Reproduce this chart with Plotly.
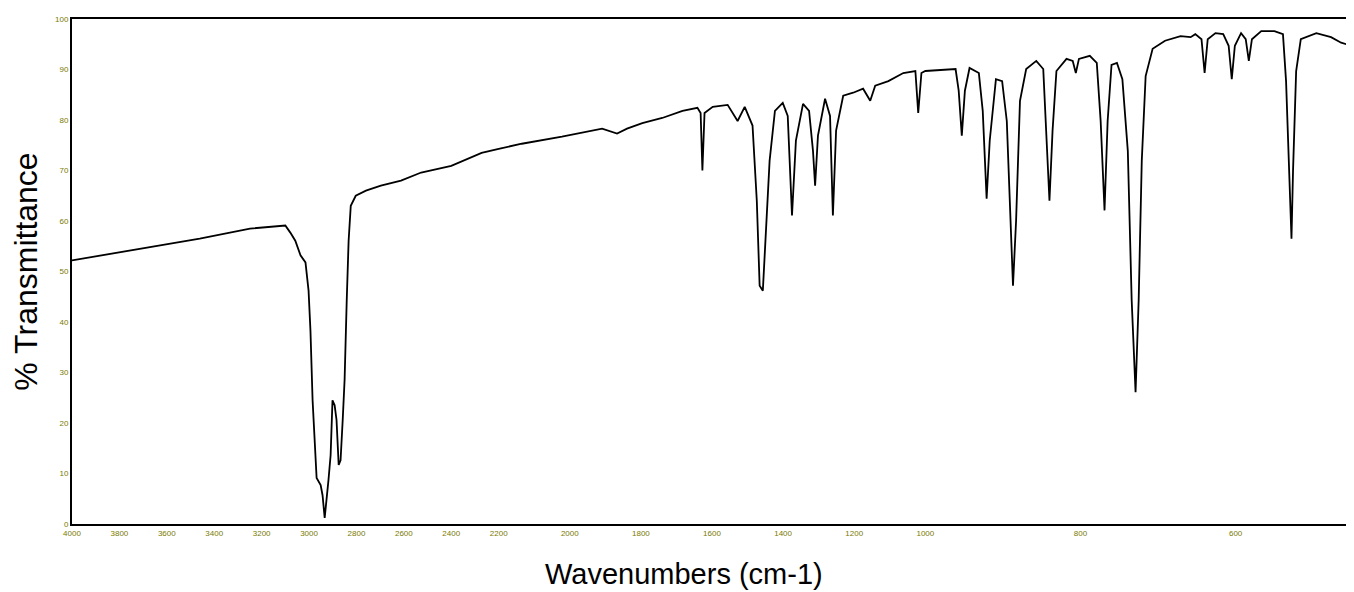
import numpy as np
import plotly.graph_objects as go

# Spectrum: wavenumber (cm-1) and % transmittance
wavenumber = [4000, 3673, 3461, 3249, 3100, 3079, 3058, 3036, 3015, 3002, 2994, 2985, 2977, 2968,
              2951, 2943, 2934, 2926, 2918, 2909, 2901, 2892, 2884, 2875, 2867, 2858, 2850, 2841,
              2833, 2824, 2803, 2760, 2697, 2612, 2527, 2400, 2272, 2200,
              2135, 2022, 1966, 1909, 1867, 1839, 1796, 1740, 1683, 1641, 1632, 1627, 1621, 1598,
              1556, 1528, 1508, 1486, 1474, 1466, 1457, 1449, 1438, 1423, 1401, 1387, 1375, 1364,
              1344, 1327, 1316, 1310, 1302, 1282, 1268, 1260, 1251, 1231, 1203, 1175, 1155, 1141,
              1104, 1062, 1028, 1020, 1011, 1000,
              977, 961, 957, 953, 949, 943, 931, 926, 921, 917, 909, 901, 895, 891, 887, 883, 878,
              870, 857, 848, 844, 840, 836, 831, 818, 810, 806, 802, 788, 779, 774, 769, 765, 760,
              753, 746, 739, 734, 729, 725, 721, 716, 707, 691, 671, 658, 652, 644, 640, 636, 626,
              616, 609, 605, 601, 593, 587, 583, 579, 567, 550, 539, 535, 531, 528, 526, 522, 516,
              496, 477, 464, 450]
transmittance = [52.2, 54.9, 56.5, 58.5, 59.1, 57.7, 56.1, 53.2, 51.8, 46.2, 38.3, 24.5, 15.6, 9.1,
                 7.7, 5.7, 1.2, 4.7, 8.7, 13.6, 24.5, 23.5, 20.6, 11.7, 12.6, 20.6, 28.5, 44.3,
                 56.1, 63.0, 65.0, 66.0, 67.0, 68.0, 69.6, 70.9, 73.5, 74.3,
                 75.3, 76.7, 77.5, 78.3, 77.3, 78.3, 79.4, 80.4, 81.8, 82.4, 81.4, 70.0, 81.4, 82.6,
                 83.0, 79.8, 82.6, 78.9, 64.0, 47.2, 46.2, 56.1, 71.9, 81.8, 83.4, 80.8, 61.1, 75.9,
                 83.2, 81.8, 73.9, 67.0, 76.9, 84.2, 80.8, 61.1, 77.9, 84.8, 85.4, 86.2, 83.8, 86.8,
                 87.7, 89.3, 89.7, 81.4, 89.3, 89.7,
                 89.9, 90.1, 85.8, 76.9, 85.8, 90.3, 89.3, 81.8, 64.4, 75.9, 88.1, 87.7, 79.8, 62.1,
                 47.2, 60.1, 83.8, 90.1, 91.7, 90.1, 77.9, 64.0, 77.9, 89.7, 92.1, 91.7, 89.3, 92.1,
                 92.7, 91.3, 79.8, 62.1, 79.8, 90.9, 91.3, 88.1, 73.9, 44.3, 26.1, 44.3, 71.9, 88.7,
                 94.1, 95.7, 96.6, 96.4, 97.0, 96.0, 89.3, 96.0, 97.2, 97.0, 94.7, 88.1, 94.7, 97.2,
                 96.0, 91.7, 96.0, 97.6, 97.6, 97.0, 87.7, 70.0, 56.5, 70.0, 89.7, 96.0, 97.2, 96.4,
                 95.3, 94.7]

# Axis: three equal-width segments with different scales
axis_breaks = [4000, 2200, 1000, 450]
tick_labels = ["4000", "3800", "3600", "3400", "3200", "3000", "2800", "2600", "2400", "2200",
               "2000", "1800", "1600", "1400", "1200", "1000", "800", "600", "450"]
y_ticks = [0, 10, 20, 30, 40, 50, 60, 70, 80, 90, 100]


def axis_pos(nu):
    nu = np.asarray(nu, dtype=float)
    return np.interp(-nu, [-b for b in axis_breaks], list(range(len(axis_breaks))))


tick_values = [float(v) for v in axis_pos([float(t) for t in tick_labels])]

fig = go.Figure()
fig.add_trace(go.Scatter(x=axis_pos(wavenumber), y=transmittance, mode="lines",
                         line=dict(color="black", width=1.8), hoverinfo="skip"))

tick_font = dict(family="Liberation Sans, Arial, sans-serif", size=8, color="#7a7a00")
x_title_font = dict(family="Liberation Sans, Arial, sans-serif", size=29, color="black")
y_title_font = dict(family="Liberation Sans, Arial, sans-serif", size=32, color="black")

fig.update_layout(
    width=1346, height=584,
    margin=dict(l=64, r=0, t=11, b=68),
    paper_bgcolor="white", plot_bgcolor="white",
    showlegend=False,
    xaxis=dict(range=[0, len(axis_breaks) - 1], tickmode="array", tickvals=tick_values,
               ticktext=tick_labels, showgrid=False, zeroline=False, showline=True,
               linecolor="black", linewidth=2, mirror=True, ticks="", tickfont=tick_font),
    yaxis=dict(range=[0, 100], tickmode="array", tickvals=y_ticks,
               showgrid=False, zeroline=False, showline=True,
               linecolor="black", linewidth=2, mirror=True, ticks="", tickfont=tick_font,
               title=dict(text="% Transmittance", font=y_title_font, standoff=10)),
    annotations=[dict(text="Wavenumbers (cm-1)", xref="paper", yref="paper",
                      x=0.478, y=-0.099, xanchor="center", yanchor="middle",
                      showarrow=False, font=x_title_font)],
)

fig.write_html("out.html")
